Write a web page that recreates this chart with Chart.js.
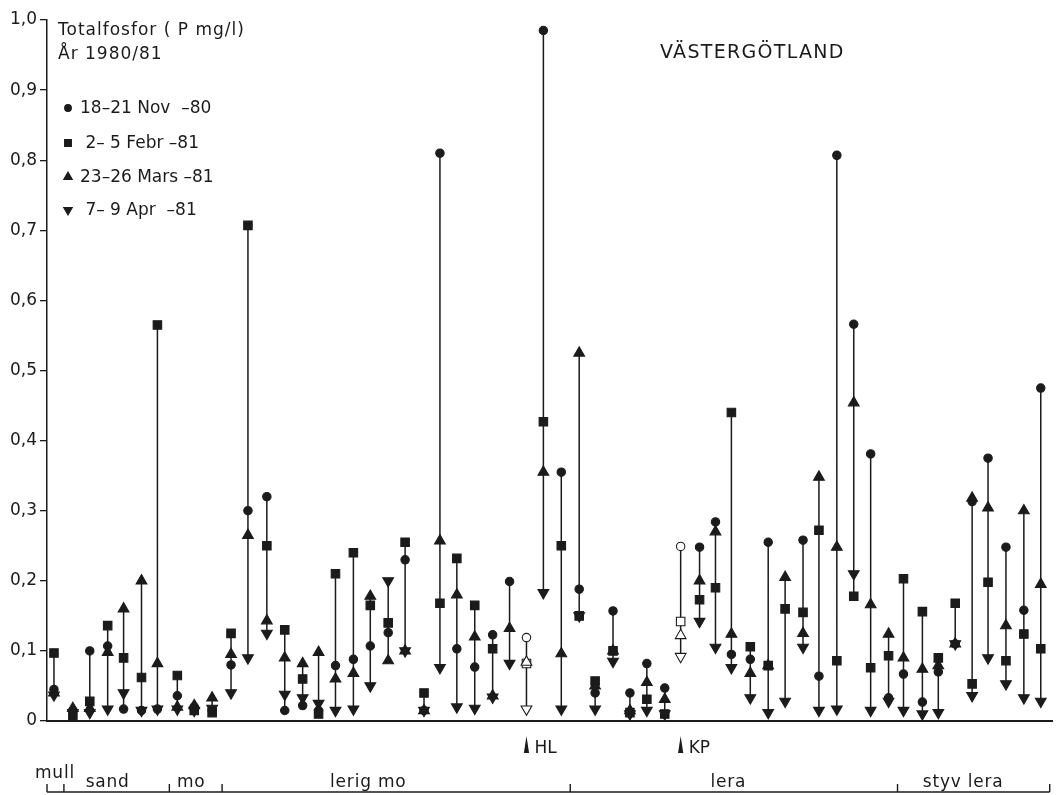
<!DOCTYPE html>
<html>
<head>
<meta charset="utf-8">
<title>Totalfosfor Västergötland 1980/81</title>
<script src="https://cdn.jsdelivr.net/npm/chart.js"></script>
<style>
  html, body { margin: 0; padding: 0; background: #fff; }
  #wrap { position: relative; width: 1060px; height: 795px; }
</style>
</head>
<body>
<div id="wrap"><canvas id="fosfor"></canvas></div>
<script>
// sampling sites, position along the soil sequence (mull -> styv lera)
var sites = [0.7, 2.6, 4.3, 6.1, 7.7, 9.5, 11.1, 13.1, 14.8, 16.6,
             18.5, 20.2, 22.1, 23.9, 25.7, 27.3, 29.0, 30.8, 32.5, 34.3,
             36.0, 37.9, 39.5, 41.2, 43.0, 44.8, 46.5, 48.2, 49.9, 51.7,
             53.5, 55.1, 56.9, 58.6, 60.3, 62.1, 63.7, 65.6, 67.2, 68.8,
             70.7, 72.5, 74.2, 76.0, 77.6, 79.4, 81.1, 82.8, 84.6, 86.1,
             88.0, 89.6, 91.3, 93.0, 94.6, 96.4, 98.2, 99.9];

// total phosphorus, P mg/l
var nov80 = [0.045, 0.015, 0.100, 0.107, 0.017, 0.015, 0.017, 0.036, 0.020, 0.015,
             0.080, 0.300, 0.320, 0.015, 0.022, 0.015, 0.079, 0.088, 0.107, 0.126,
             0.230, 0.015, 0.810, 0.103, 0.077, 0.123, 0.199, 0.119, 0.985, 0.355,
             0.188, 0.040, 0.157, 0.040, 0.082, 0.047, 0.249, 0.248, 0.284, 0.095,
             0.088, 0.255, null,  0.258, 0.064, 0.807, 0.566, 0.381, 0.033, 0.067,
             0.027, 0.070, 0.110, 0.313, 0.375, 0.248, 0.158, 0.475];
var feb81 = [0.097, 0.008, 0.028, 0.136, 0.090, 0.062, 0.565, 0.065, 0.015, 0.012,
             0.125, 0.707, 0.250, 0.130, 0.060, 0.010, 0.210, 0.240, 0.165, 0.140,
             0.255, 0.040, 0.168, 0.232, 0.165, 0.103, null,  0.082, 0.427, 0.250,
             0.150, 0.057, 0.100, 0.012, 0.031, 0.010, 0.142, 0.173, 0.190, 0.440,
             0.106, 0.079, 0.160, 0.155, 0.272, 0.086, 0.178, 0.076, 0.093, 0.203,
             0.156, 0.090, 0.168, 0.053, 0.198, 0.086, 0.124, 0.103];
var mar81 = [0.040, 0.018, 0.018, 0.098, 0.160, 0.200, 0.082, 0.020, 0.022, 0.033,
             0.095, 0.265, 0.143, 0.090, 0.082, 0.098, 0.060, 0.068, 0.178, 0.086,
             0.100, 0.015, 0.257, 0.180, 0.120, 0.036, 0.132, 0.084, 0.355, 0.096,
             0.525, 0.050, 0.100, 0.015, 0.055, 0.031, 0.122, 0.200, 0.270, 0.124,
             0.068, 0.079, 0.205, 0.125, 0.348, 0.248, 0.454, 0.166, 0.124, 0.090,
             0.074, 0.079, 0.110, 0.318, 0.304, 0.136, 0.300, 0.195];
var apr81 = [0.037, 0.012, 0.012, 0.017, 0.040, 0.015, 0.017, 0.017, 0.015, 0.018,
             0.040, 0.090, 0.125, 0.038, 0.033, 0.025, 0.015, 0.017, 0.050, 0.200,
             0.100, 0.015, 0.076, 0.020, 0.018, 0.034, 0.082, 0.017, 0.183, 0.017,
             0.150, 0.017, 0.085, 0.010, 0.015, 0.010, 0.092, 0.142, 0.105, 0.076,
             0.033, 0.012, 0.028, 0.105, 0.015, 0.017, 0.210, 0.015, 0.028, 0.015,
             0.010, 0.012, 0.110, 0.036, 0.090, 0.053, 0.033, 0.028];

// sites marked HL and KP (open symbols)
var openSites = [27, 36];
var openNames = ['HL', 'KP'];

var seriesNames = ['18–21 Nov  –80', ' 2– 5 Febr –81', '23–26 Mars –81', ' 7– 9 Apr  –81'];

var soilNames = ['mull', 'sand', 'mo', 'lerig mo', 'lera', 'styv lera'];
var soilBounds = [0, 1.7, 12.3, 17.6, 52.6, 85.5, 100.8];
var soilLabelX = [0.8, 6.1, 14.5, 32.3, 68.5, 92.1];

var FONT = '"DejaVu Sans", "Liberation Sans", sans-serif';
var INK = '#1b1b1b';

var markerStyles = [
    { pointStyle: 'circle', radius: 4.2, rotation: 0 },
    { pointStyle: 'rect', radius: 6, rotation: 0 },
    { pointStyle: 'triangle', radius: 6.2, rotation: 0 },
    { pointStyle: 'triangle', radius: 6.2, rotation: 180 }
];

function toPoints(values) {
    var pts = [];
    for (var i = 0; i < values.length; i++) {
        if (values[i] !== null) pts.push({ x: sites[i], y: values[i], site: i });
    }
    return pts;
}

// one vertical stroke per site, from lowest to highest sample
function rangeLines() {
    var pts = [];
    for (var i = 0; i < sites.length; i++) {
        var vals = [nov80[i], feb81[i], mar81[i], apr81[i]].filter(function(v) { return v !== null; });
        pts.push({ x: sites[i], y: Math.min.apply(null, vals) });
        pts.push({ x: sites[i], y: Math.max.apply(null, vals) });
        pts.push({ x: sites[i], y: null });
    }
    return pts;
}

function fillFor(c) {
    return (c.raw && openSites.indexOf(c.raw.site) >= 0) ? '#fff' : INK;
}

function markerSet(label, values, style) {
    return {
        label: label,
        data: toPoints(values),
        pointStyle: style.pointStyle,
        pointRadius: style.radius,
        pointRotation: style.rotation,
        pointBackgroundColor: fillFor,
        pointBorderColor: INK,
        pointBorderWidth: 1.1,
        showLine: false,
        clip: false,
        order: 0
    };
}

var annotations = {
    id: 'annotations',
    afterDraw: function(chart) {
        var ctx = chart.ctx;
        var xs = chart.scales.x;
        ctx.save();
        ctx.fillStyle = INK;
        ctx.strokeStyle = INK;
        ctx.textBaseline = 'alphabetic';

        ctx.font = '17px ' + FONT;
        ctx.textAlign = 'left';
        ctx.letterSpacing = '1px';
        ctx.fillText('Totalfosfor ( P mg/l)', 58, 35);
        ctx.fillText('År 1980/81', 58, 59);

        ctx.font = '19px ' + FONT;
        ctx.letterSpacing = '1.3px';
        ctx.fillText('VÄSTERGÖTLAND', 660, 58);
        ctx.letterSpacing = '0px';

        // legend
        ctx.font = '17px ' + FONT;
        var rowY = [108, 143, 177, 210];
        for (var i = 0; i < seriesNames.length; i++) {
            var st = markerStyles[i];
            ctx.fillStyle = INK;
            Chart.helpers.drawPoint(ctx, {
                pointStyle: st.pointStyle, radius: st.radius * 0.8,
                rotation: st.rotation, borderWidth: 1
            }, 68, rowY[i]);
            ctx.textBaseline = 'middle';
            ctx.fillText(seriesNames[i], 80, rowY[i] + 1);
        }

        // HL / KP site flags under the axis
        ctx.textBaseline = 'alphabetic';
        ctx.font = '17px ' + FONT;
        for (var k = 0; k < openSites.length; k++) {
            var px = xs.getPixelForValue(sites[openSites[k]]);
            ctx.beginPath();
            ctx.moveTo(px - 2.6, 753);
            ctx.lineTo(px + 2.6, 753);
            ctx.lineTo(px, 736);
            ctx.closePath();
            ctx.fill();
            ctx.fillText(openNames[k], px + 8, 753);
        }

        // soil class bracket
        var lineY = 792;
        ctx.lineWidth = 1.4;
        ctx.beginPath();
        ctx.moveTo(xs.getPixelForValue(soilBounds[0]), lineY);
        ctx.lineTo(xs.getPixelForValue(soilBounds[soilBounds.length - 1]), lineY);
        for (var b = 0; b < soilBounds.length; b++) {
            var bx = xs.getPixelForValue(soilBounds[b]);
            ctx.moveTo(bx, lineY);
            ctx.lineTo(bx, lineY - 8);
        }
        ctx.stroke();

        ctx.textAlign = 'center';
        ctx.letterSpacing = '0.8px';
        for (var s = 0; s < soilNames.length; s++) {
            var ly = soilNames[s] === 'mull' ? 778 : 787;
            ctx.fillText(soilNames[s], xs.getPixelForValue(soilLabelX[s]), ly);
        }
        ctx.restore();
    }
};

var datasets = [
    markerSet(seriesNames[3], apr81, markerStyles[3]),
    markerSet(seriesNames[2], mar81, markerStyles[2]),
    markerSet(seriesNames[1], feb81, markerStyles[1]),
    markerSet(seriesNames[0], nov80, markerStyles[0]),
    {
        label: 'range',
        data: rangeLines(),
        showLine: true,
        spanGaps: false,
        pointRadius: 0,
        borderColor: INK,
        borderWidth: 1.5,
        clip: false,
        order: 10
    }
];

window.onload = function() {
    var ctx = document.getElementById('fosfor').getContext('2d');
    new Chart(ctx, {
        type: 'scatter',
        data: { datasets: datasets },
        options: {
            responsive: true,
            maintainAspectRatio: false,
            animation: false,
            events: [],
            layout: { padding: { top: 20, right: 2, left: 0, bottom: 0 } },
            plugins: {
                legend: { display: false },
                tooltip: { enabled: false }
            },
            scales: {
                x: {
                    type: 'linear',
                    min: 0,
                    max: 101.1,
                    grid: { display: false },
                    ticks: { display: false },
                    border: { display: true, color: INK, width: 2 },
                    afterFit: function(scale) { scale.height = 74; }
                },
                y: {
                    min: 0,
                    max: 1.0,
                    ticks: {
                        stepSize: 0.1,
                        padding: 3,
                        color: INK,
                        font: { family: FONT, size: 17 },
                        callback: function(v) {
                            return v === 0 ? '0' : v.toFixed(1).replace('.', ',');
                        }
                    },
                    grid: {
                        drawOnChartArea: false,
                        drawTicks: true,
                        tickLength: 7,
                        color: INK,
                        lineWidth: 1.3
                    },
                    border: { display: true, color: INK, width: 1.5 },
                    afterFit: function(scale) { scale.width = 47; }
                }
            }
        },
        plugins: [annotations]
    });
};
</script>
</body>
</html>
